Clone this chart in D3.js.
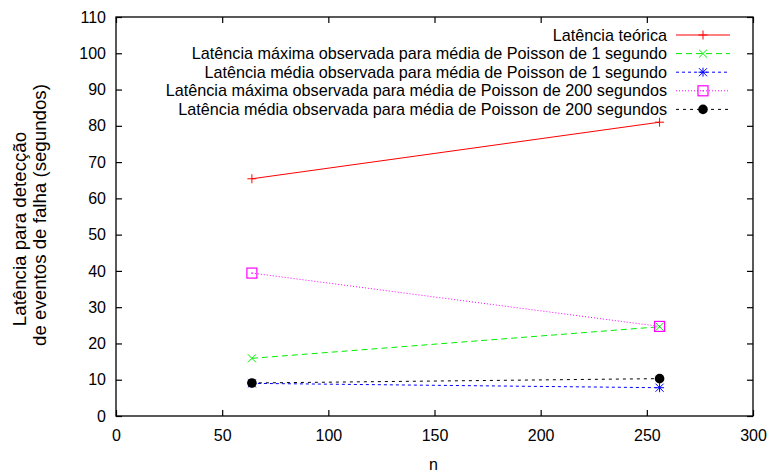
<!DOCTYPE html>
<html>
<head>
<meta charset="utf-8">
<script src="https://cdn.jsdelivr.net/npm/d3@7"></script>
<style>
  body { margin: 0; background: #fff; }
  svg { display: block; font-family: "Liberation Sans", Arial, sans-serif; }
</style>
</head>
<body>
<svg id="chart" width="773" height="475"></svg>
<script>
// Sizes of the system (n)
const nValues = [64, 256];

// Latency series (seconds)
const seriesNames = [
  "Latência teórica",
  "Latência máxima observada para média de Poisson de 1 segundo",
  "Latência média observada para média de Poisson de 1 segundo",
  "Latência máxima observada para média de Poisson de 200 segundos",
  "Latência média observada para média de Poisson de 200 segundos"
];
const teorica = [65.4, 81.0];
const maxPoisson1 = [15.9, 24.6];
const mediaPoisson1 = [9.0, 7.8];
const maxPoisson200 = [39.4, 24.7];
const mediaPoisson200 = [9.1, 10.3];

const xTicks = [0, 50, 100, 150, 200, 250, 300];
const yTicks = [0, 10, 20, 30, 40, 50, 60, 70, 80, 90, 100, 110];

const styles = [
  { color: "#ff0000", dash: null, marker: "plus" },
  { color: "#00ee00", dash: "6,4", marker: "cross" },
  { color: "#0000ff", dash: "3,3", marker: "star" },
  { color: "#ff00ff", dash: "1,2", marker: "square" },
  { color: "#000000", dash: "3,4", marker: "dot" }
];
const allSeries = [teorica, maxPoisson1, mediaPoisson1, maxPoisson200, mediaPoisson200];

const svg = d3.select("#chart");
const plotLeft = 116, plotRight = 753, plotTop = 17, plotBottom = 416;

const x = d3.scaleLinear().domain([0, 300]).range([plotLeft, plotRight]);
const y = d3.scaleLinear().domain([0, 110]).range([plotBottom, plotTop]);

const tickLen = 6;

// Frame
svg.append("rect")
  .attr("x", plotLeft).attr("y", plotTop)
  .attr("width", plotRight - plotLeft).attr("height", plotBottom - plotTop)
  .attr("fill", "none").attr("stroke", "#000").attr("stroke-width", 1.3);

// Axes with inward ticks, mirrored on the opposite sides
const xAxis = svg.append("g").attr("transform", `translate(0,${plotBottom})`)
  .call(d3.axisBottom(x).tickValues(xTicks).tickSizeInner(-tickLen).tickSizeOuter(0).tickPadding(14));
const yAxis = svg.append("g").attr("transform", `translate(${plotLeft},0)`)
  .call(d3.axisLeft(y).tickValues(yTicks).tickSizeInner(-tickLen).tickSizeOuter(0).tickPadding(9));
const xTop = svg.append("g").attr("transform", `translate(0,${plotTop})`)
  .call(d3.axisTop(x).tickValues(xTicks).tickSizeInner(-tickLen).tickSizeOuter(0).tickFormat(""));
const yRight = svg.append("g").attr("transform", `translate(${plotRight},0)`)
  .call(d3.axisRight(y).tickValues(yTicks).tickSizeInner(-tickLen).tickSizeOuter(0).tickFormat(""));

[xAxis, yAxis, xTop, yRight].forEach(g => {
  g.select(".domain").remove();
  g.selectAll(".tick line").attr("stroke", "#000").attr("stroke-width", 1.2);
  g.selectAll(".tick text").attr("font-size", 16).attr("fill", "#000")
    .attr("font-family", "Liberation Sans, Arial, sans-serif");
});
xAxis.selectAll(".tick text").attr("dy", "0.71em");
yAxis.selectAll(".tick text").attr("dx", "-1");

// Axis titles
svg.append("text")
  .attr("x", (plotLeft + plotRight) / 2 - 1).attr("y", 470)
  .attr("text-anchor", "middle").attr("font-size", 16).text("n");

const yTitle = svg.append("g").attr("font-size", 18.7).attr("text-anchor", "middle");
yTitle.append("text").attr("transform", "translate(26,229) rotate(-90)").text("Latência para detecção");
yTitle.append("text").attr("transform", "translate(46,215) rotate(-90)").text("de eventos de falha (segundos)");

// Markers
function drawMarker(g, type, cx, cy, color) {
  const s = 4.5;
  if (type === "plus" || type === "star") {
    g.append("line").attr("x1", cx - s).attr("x2", cx + s).attr("y1", cy).attr("y2", cy).attr("stroke", color);
    g.append("line").attr("x1", cx).attr("x2", cx).attr("y1", cy - s).attr("y2", cy + s).attr("stroke", color);
  }
  if (type === "cross" || type === "star") {
    const d = s * 0.9;
    g.append("line").attr("x1", cx - d).attr("x2", cx + d).attr("y1", cy - d).attr("y2", cy + d).attr("stroke", color);
    g.append("line").attr("x1", cx - d).attr("x2", cx + d).attr("y1", cy + d).attr("y2", cy - d).attr("stroke", color);
  }
  if (type === "square") {
    g.append("rect").attr("x", cx - 5).attr("y", cy - 5).attr("width", 10).attr("height", 10)
      .attr("fill", "none").attr("stroke", color).attr("stroke-width", 1.2);
    g.append("rect").attr("x", cx - 0.6).attr("y", cy - 0.6).attr("width", 1.2).attr("height", 1.2).attr("fill", color);
  }
  if (type === "dot") {
    g.append("circle").attr("cx", cx).attr("cy", cy).attr("r", 4.8).attr("fill", color);
  }
}

const line = d3.line().x(d => x(d[0])).y(d => y(d[1]));

allSeries.forEach((vals, i) => {
  const st = styles[i];
  const g = svg.append("g");
  const pts = nValues.map((n, j) => [n, vals[j]]);
  g.append("path").datum(pts).attr("d", line)
    .attr("fill", "none").attr("stroke", st.color).attr("stroke-width", 1)
    .attr("stroke-dasharray", st.dash);
  pts.forEach(p => drawMarker(g, st.marker, x(p[0]), y(p[1]), st.color));
});

// Key
const keyTextRight = 667, sampleX1 = 676, sampleX2 = 730;
seriesNames.forEach((name, i) => {
  const st = styles[i];
  const ky = 35 + i * 18.6;
  const g = svg.append("g");
  g.append("text").attr("x", keyTextRight).attr("y", ky).attr("dy", "0.35em")
    .attr("text-anchor", "end").attr("font-size", 16.2).text(name);
  g.append("line").attr("x1", sampleX1).attr("x2", sampleX2).attr("y1", ky).attr("y2", ky)
    .attr("stroke", st.color).attr("stroke-width", 1).attr("stroke-dasharray", st.dash);
  drawMarker(g, st.marker, (sampleX1 + sampleX2) / 2, ky, st.color);
});
</script>
</body>
</html>
